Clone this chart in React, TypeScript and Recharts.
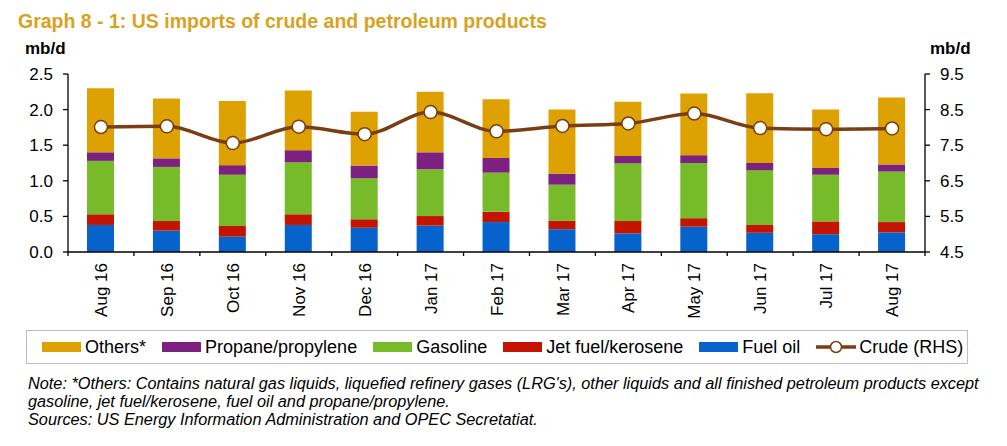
import React from "react"
import { ComposedChart, Bar, Line, XAxis, YAxis } from "recharts"

const months = [
  "Aug 16", "Sep 16", "Oct 16", "Nov 16", "Dec 16", "Jan 17", "Feb 17",
  "Mar 17", "Apr 17", "May 17", "Jun 17", "Jul 17", "Aug 17",
]
const fuelOil = [0.38, 0.3, 0.215, 0.38, 0.34, 0.37, 0.42, 0.32, 0.26, 0.355, 0.27, 0.25, 0.275]
const jetFuel = [0.15, 0.135, 0.15, 0.15, 0.12, 0.135, 0.145, 0.12, 0.175, 0.12, 0.11, 0.18, 0.145]
const gasoline = [0.75, 0.76, 0.72, 0.73, 0.575, 0.655, 0.55, 0.505, 0.81, 0.775, 0.77, 0.655, 0.71]
const propane = [0.12, 0.12, 0.135, 0.17, 0.18, 0.24, 0.205, 0.155, 0.105, 0.11, 0.1, 0.095, 0.1]
const others = [0.9, 0.84, 0.9, 0.84, 0.755, 0.85, 0.825, 0.9, 0.76, 0.865, 0.98, 0.82, 0.94]
const crude = [8.01, 8.03, 7.56, 8.02, 7.81, 8.43, 7.89, 8.04, 8.11, 8.39, 7.98, 7.95, 7.97]

const leftTicks = [0, 0.5, 1, 1.5, 2, 2.5]
const rightTicks = [4.5, 5.5, 6.5, 7.5, 8.5, 9.5]

const data = months.map((m, i) => ({
  month: m,
  fuelOil: fuelOil[i],
  jetFuel: jetFuel[i],
  gasoline: gasoline[i],
  propane: propane[i],
  others: others[i],
  crude: crude[i],
}))

const COLORS = {
  others: "#DDA202",
  propane: "#7C2180",
  gasoline: "#78BB2A",
  jet: "#C31400",
  fuel: "#0663CC",
  crude: "#7A3E12",
}

const FONT = "'Liberation Sans', Arial, sans-serif"
const W = 1007
const LEFT_W = 68
const RIGHT_W = 82
const band = (W - LEFT_W - RIGHT_W) / months.length

const MonthTick = (props: any) => {
  const { x, y, index } = props
  const last = index === months.length - 1
  return (
    <g>
      <line x1={x - band / 2} x2={x - band / 2} y1={y - 4} y2={y} stroke="#000" strokeWidth={1.3} />
      {last && (
        <line x1={x + band / 2} x2={x + band / 2} y1={y - 4} y2={y} stroke="#000" strokeWidth={1.3} />
      )}
      <text
        transform={`translate(${x},${y + 7}) rotate(-90)`}
        textAnchor="end"
        dy="0.36em"
        fontSize={17}
        fontFamily={FONT}
        fill="#000"
      >
        {props.payload.value}
      </text>
    </g>
  )
}

const legendItems = [
  { label: "Others*", color: COLORS.others },
  { label: "Propane/propylene", color: COLORS.propane },
  { label: "Gasoline", color: COLORS.gasoline },
  { label: "Jet fuel/kerosene", color: COLORS.jet },
  { label: "Fuel oil", color: COLORS.fuel },
]

export default function App() {
  return (
    <div
      style={{
        position: "absolute",
        left: 0,
        top: 0,
        width: W,
        height: 446,
        background: "#fff",
        fontFamily: FONT,
        overflow: "hidden",
      }}
    >
      <div
        style={{
          position: "absolute",
          left: 18,
          top: 10,
          fontSize: 19.5,
          fontWeight: "bold",
          color: "#D9A21E",
          whiteSpace: "nowrap",
        }}
      >
        Graph 8 - 1: US imports of crude and petroleum products
      </div>
      <div style={{ position: "absolute", left: 25, top: 39, fontSize: 17, fontWeight: "bold" }}>mb/d</div>
      <div style={{ position: "absolute", left: 930, top: 39, fontSize: 17, fontWeight: "bold" }}>mb/d</div>

      <div style={{ position: "absolute", left: 0, top: 0 }}>
        <ComposedChart
          width={W}
          height={332}
          data={data}
          margin={{ top: 74, right: 0, bottom: 0, left: 0 }}
          barCategoryGap={0}
        >
          <XAxis
            dataKey="month"
            xAxisId="m"
            height={80}
            axisLine={{ stroke: "#000", strokeWidth: 1.3 }}
            tickLine={false}
            tickSize={4}
            tickMargin={0}
            interval={0}
            tick={<MonthTick />}
          />
          <YAxis
            yAxisId="left"
            width={LEFT_W}
            domain={[0, 2.5]}
            ticks={leftTicks}
            tickFormatter={(v: number) => v.toFixed(1)}
            axisLine={{ stroke: "#000", strokeWidth: 1.3 }}
            tickLine={{ stroke: "#000", strokeWidth: 1.3 }}
            tickSize={5}
            tickMargin={10}
            tick={{ fontSize: 17, fill: "#000", fontFamily: FONT }}
          />
          <YAxis
            yAxisId="right"
            orientation="right"
            width={RIGHT_W}
            domain={[4.5, 9.5]}
            ticks={rightTicks}
            tickFormatter={(v: number) => v.toFixed(1)}
            axisLine={{ stroke: "#000", strokeWidth: 1.3 }}
            tickLine={{ stroke: "#000", strokeWidth: 1.3 }}
            tickSize={5}
            tickMargin={10}
            tick={{ fontSize: 17, fill: "#000", fontFamily: FONT }}
          />
          <Bar xAxisId="m" yAxisId="left" dataKey="fuelOil" stackId="a" fill={COLORS.fuel} barSize={27} isAnimationActive={false} />
          <Bar xAxisId="m" yAxisId="left" dataKey="jetFuel" stackId="a" fill={COLORS.jet} barSize={27} isAnimationActive={false} />
          <Bar xAxisId="m" yAxisId="left" dataKey="gasoline" stackId="a" fill={COLORS.gasoline} barSize={27} isAnimationActive={false} />
          <Bar xAxisId="m" yAxisId="left" dataKey="propane" stackId="a" fill={COLORS.propane} barSize={27} isAnimationActive={false} />
          <Bar xAxisId="m" yAxisId="left" dataKey="others" stackId="a" fill={COLORS.others} barSize={27} isAnimationActive={false} />
          <Line
            xAxisId="m"
            yAxisId="right"
            dataKey="crude"
            type="monotone"
            stroke={COLORS.crude}
            strokeWidth={3.5}
            dot={{ r: 6.5, fill: "#fff", stroke: COLORS.crude, strokeWidth: 1.5 }}
            isAnimationActive={false}
          />
        </ComposedChart>
      </div>

      <div
        style={{
          position: "absolute",
          left: 26,
          top: 330,
          width: 942,
          height: 34,
          boxSizing: "border-box",
          border: "1px solid #bdbdbd",
          display: "flex",
          alignItems: "center",
          paddingLeft: 15,
          fontSize: 18,
          whiteSpace: "nowrap",
        }}
      >
        {legendItems.map((it) => (
          <div key={it.label} style={{ display: "flex", alignItems: "center", marginRight: 16 }}>
            <span style={{ display: "inline-block", width: 39, height: 10, background: it.color, marginRight: 4 }} />
            <span>{it.label}</span>
          </div>
        ))}
        <div style={{ display: "flex", alignItems: "center" }}>
          <svg width={40} height={16} style={{ marginRight: 3 }}>
            <line x1={0} x2={40} y1={8} y2={8} stroke={COLORS.crude} strokeWidth={3.5} />
            <circle cx={20} cy={8} r={5.5} fill="#fff" stroke={COLORS.crude} strokeWidth={1.5} />
          </svg>
          <span>Crude (RHS)</span>
        </div>
      </div>

      <div
        style={{
          position: "absolute",
          left: 28,
          top: 374,
          fontSize: 16.3,
          fontStyle: "italic",
          lineHeight: "18px",
          whiteSpace: "nowrap",
        }}
      >
        <div>
          Note: *Others: Contains natural gas liquids, liquefied refinery gases (LRG's), other liquids and all finished petroleum products except
        </div>
        <div>gasoline, jet fuel/kerosene, fuel oil and propane/propylene.</div>
        <div>Sources: US Energy Information Administration and OPEC Secretatiat.</div>
      </div>
    </div>
  )
}
